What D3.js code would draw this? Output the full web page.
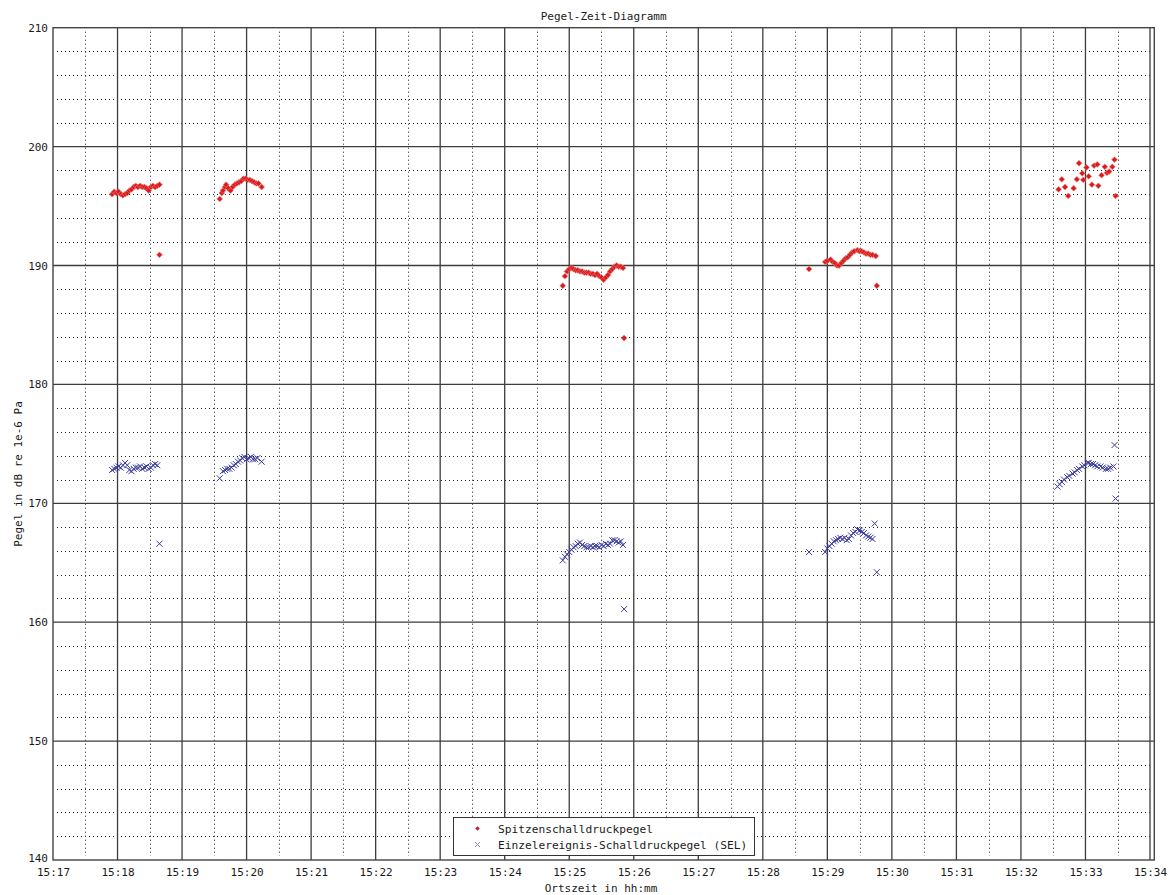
<!DOCTYPE html>
<html>
<head>
<meta charset="utf-8">
<script src="https://cdn.jsdelivr.net/npm/d3@7"></script>
<style>
  html, body { margin: 0; padding: 0; background: #fff; }
  svg { display: block; }
  text { font-family: "DejaVu Sans Mono", "Liberation Mono", monospace; fill: #1a1a1a; }
</style>
</head>
<body>
<svg id="chart" width="1171" height="895"></svg>
<script>
// ---------------- DATA ----------------
const chartTitle = "Pegel-Zeit-Diagramm";
const xAxisLabel = "Ortszeit in hh:mm";
const yAxisLabel = "Pegel in dB re 1e-6 Pa";
const seriesNames = ["Spitzenschalldruckpegel", "Einzelereignis-Schalldruckpegel (SEL)"];
const xDomain = ["15:17:00", "15:34:04"];
const yDomain = [140, 210];
const yTickValues = [140, 150, 160, 170, 180, 190, 200, 210];

const peakTimes = [
  "15:17:55","15:17:57","15:17:59","15:18:01","15:18:03","15:18:05","15:18:07","15:18:09","15:18:11","15:18:13",
  "15:18:15","15:18:17","15:18:19","15:18:21","15:18:23","15:18:25","15:18:27","15:18:29","15:18:31","15:18:33",
  "15:18:35","15:18:37","15:18:39","15:18:39",
  "15:19:35","15:19:37","15:19:38","15:19:40","15:19:41","15:19:43","15:19:45","15:19:47","15:19:49","15:19:51",
  "15:19:53","15:19:55","15:19:57","15:19:59","15:20:01","15:20:03","15:20:05","15:20:07","15:20:09","15:20:11","15:20:14",
  "15:24:54","15:24:56","15:24:58","15:25:00","15:25:02","15:25:04","15:25:06","15:25:08","15:25:10","15:25:12",
  "15:25:14","15:25:16","15:25:18","15:25:20","15:25:22","15:25:24","15:25:26","15:25:28","15:25:30","15:25:32",
  "15:25:34","15:25:36","15:25:38","15:25:40","15:25:42","15:25:44","15:25:46","15:25:48","15:25:50","15:25:51",
  "15:28:43","15:28:58","15:29:00","15:29:03","15:29:05","15:29:07","15:29:09","15:29:11","15:29:13","15:29:15",
  "15:29:17","15:29:19","15:29:21","15:29:23","15:29:25","15:29:28","15:29:30","15:29:32","15:29:34","15:29:36",
  "15:29:38","15:29:40","15:29:42","15:29:45","15:29:46",
  "15:32:35","15:32:38","15:32:41","15:32:44","15:32:49","15:32:52","15:32:54","15:32:57","15:32:58","15:33:01",
  "15:33:03","15:33:06","15:33:08","15:33:11","15:33:12","15:33:15","15:33:18","15:33:20","15:33:22","15:33:25",
  "15:33:27","15:33:28"
];
const peakLevels = [
  196.0,196.2,196.1,196.2,196.0,195.9,196.0,196.1,196.3,196.4,
  196.6,196.7,196.6,196.7,196.6,196.6,196.5,196.3,196.6,196.7,
  196.6,196.7,196.8,190.9,
  195.6,196.1,196.3,196.6,196.8,196.5,196.3,196.6,196.8,196.9,
  197.0,197.1,197.3,197.3,197.2,197.2,197.1,197.0,196.9,196.9,196.6,
  188.3,189.1,189.5,189.7,189.8,189.7,189.6,189.6,189.5,189.5,
  189.4,189.4,189.4,189.3,189.3,189.2,189.3,189.1,189.0,188.8,
  189.0,189.2,189.5,189.7,189.9,190.0,189.9,189.9,189.8,183.9,
  189.7,190.3,190.4,190.5,190.3,190.2,190.0,190.0,190.2,190.4,
  190.6,190.7,190.9,191.1,191.2,191.3,191.2,191.2,191.1,191.0,
  191.0,190.9,190.9,190.8,188.3,
  196.4,197.25,196.6,195.85,196.5,197.25,198.6,197.75,197.2,198.25,
  197.5,196.8,198.4,198.5,196.7,197.6,198.3,197.8,197.9,198.3,
  198.9,195.85
];

const selTimes = [
  "15:17:55","15:17:57","15:17:59","15:18:01","15:18:03","15:18:05","15:18:07","15:18:09","15:18:11","15:18:13",
  "15:18:15","15:18:17","15:18:19","15:18:21","15:18:23","15:18:25","15:18:27","15:18:29","15:18:31","15:18:33",
  "15:18:35","15:18:37","15:18:39",
  "15:19:35","15:19:38","15:19:40","15:19:42","15:19:44","15:19:46","15:19:48","15:19:50","15:19:52","15:19:54",
  "15:19:56","15:19:58","15:20:00","15:20:02","15:20:04","15:20:06","15:20:08","15:20:10","15:20:14",
  "15:24:54","15:24:56","15:24:58","15:25:00","15:25:02","15:25:04","15:25:06","15:25:08","15:25:10","15:25:12",
  "15:25:14","15:25:16","15:25:18","15:25:20","15:25:22","15:25:24","15:25:26","15:25:28","15:25:30","15:25:32",
  "15:25:34","15:25:36","15:25:38","15:25:40","15:25:42","15:25:44","15:25:46","15:25:48","15:25:50","15:25:51",
  "15:28:43","15:28:58","15:29:00","15:29:02","15:29:04","15:29:06","15:29:08","15:29:10","15:29:12","15:29:14",
  "15:29:16","15:29:18","15:29:20","15:29:22","15:29:24","15:29:26","15:29:28","15:29:30","15:29:32","15:29:34",
  "15:29:36","15:29:38","15:29:40","15:29:42","15:29:44","15:29:46",
  "15:32:34","15:32:36","15:32:38","15:32:40","15:32:43","15:32:45","15:32:48","15:32:50","15:32:52","15:32:54",
  "15:32:57","15:32:59","15:33:02","15:33:03","15:33:05","15:33:07","15:33:09","15:33:11","15:33:14","15:33:16",
  "15:33:19","15:33:21","15:33:23","15:33:26","15:33:27","15:33:28"
];
const selLevels = [
  172.8,172.9,173.0,173.1,173.0,173.2,173.4,173.2,172.8,172.7,
  172.9,173.0,173.0,173.1,172.9,173.0,173.1,172.9,173.0,173.2,
  173.3,173.2,166.6,
  172.1,172.7,172.8,172.9,172.9,173.0,173.2,173.3,173.5,173.6,
  173.8,173.9,173.7,173.8,173.9,173.7,173.7,173.8,173.5,
  165.2,165.5,165.7,165.9,166.1,166.3,166.4,166.6,166.7,166.5,
  166.4,166.3,166.3,166.4,166.3,166.4,166.4,166.3,166.5,166.4,
  166.6,166.5,166.6,166.9,166.9,166.8,166.7,166.8,166.5,161.1,
  165.9,165.9,166.2,166.4,166.6,166.8,166.9,167.0,167.1,167.0,
  167.1,166.9,167.0,167.3,167.5,167.6,167.8,167.7,167.6,167.5,
  167.3,167.2,167.1,167.0,168.3,164.2,
  171.4,171.6,171.8,172.0,172.2,172.3,172.5,172.6,172.8,172.9,
  173.1,173.2,173.4,173.4,173.3,173.3,173.2,173.1,173.1,173.0,
  172.9,172.9,173.0,173.1,174.9,170.4
];

// ---------------- CHART ----------------
const svg = d3.select("#chart");
const W = 1171, H = 895;
const plot = { left: 53, top: 27.7, right: 1154.3, bottom: 860 };
const parseT = d3.timeParse("%H:%M:%S");

const x = d3.scaleTime().domain(xDomain.map(parseT)).range([plot.left, plot.right]);
const y = d3.scaleLinear().domain(yDomain).range([plot.bottom, plot.top]);

svg.append("rect").attr("width", W).attr("height", H).attr("fill", "#fff");

// minor grid (dotted)
const minorX = d3.timeSecond.every(30).range(x.domain()[0], x.domain()[1]).filter(d => d.getSeconds() === 30);
const minorY = d3.range(142, 210, 2).filter(v => v % 10 !== 0);
const grid = svg.append("g");
grid.selectAll("line.mx").data(minorX).join("line")
  .attr("x1", d => Math.round(x(d)) + 0.5).attr("x2", d => Math.round(x(d)) + 0.5)
  .attr("y1", plot.top + 4).attr("y2", plot.bottom - 4)
  .attr("stroke", "#222").attr("stroke-width", 1).attr("stroke-dasharray", "1,3");
grid.selectAll("line.my").data(minorY).join("line")
  .attr("y1", d => Math.round(y(d)) + 0.5).attr("y2", d => Math.round(y(d)) + 0.5)
  .attr("x1", plot.left + 4).attr("x2", plot.right - 4)
  .attr("stroke", "#222").attr("stroke-width", 1).attr("stroke-dasharray", "1,3");

// major grid (solid)
const majorX = d3.timeMinute.every(1).range(x.domain()[0], x.domain()[1]).filter(d => x(d) > plot.left + 1);
const majorY = yTickValues.filter(v => v > yDomain[0] && v < yDomain[1]);
grid.selectAll("line.Mx").data(majorX).join("line")
  .attr("x1", d => x(d)).attr("x2", d => x(d))
  .attr("y1", plot.top).attr("y2", plot.bottom)
  .attr("stroke", "#3c3c3c").attr("stroke-width", 1.3);
grid.selectAll("line.My").data(majorY).join("line")
  .attr("y1", d => y(d)).attr("y2", d => y(d))
  .attr("x1", plot.left).attr("x2", plot.right)
  .attr("stroke", "#3c3c3c").attr("stroke-width", 1.3);

// frame
svg.append("rect")
  .attr("x", plot.left).attr("y", plot.top)
  .attr("width", plot.right - plot.left).attr("height", plot.bottom - plot.top)
  .attr("fill", "none").attr("stroke", "#444").attr("stroke-width", 1.4);

// axes
const xAxis = d3.axisBottom(x)
  .tickValues(d3.timeMinute.every(1).range(x.domain()[0], x.domain()[1]))
  .tickFormat(d3.timeFormat("%H:%M")).tickSize(0).tickPadding(8);
const gx = svg.append("g").attr("transform", `translate(0,${plot.bottom})`).call(xAxis);
gx.select(".domain").remove();
gx.selectAll("text").attr("font-size", 11).attr("font-family", "DejaVu Sans Mono").attr("fill", "#1a1a1a");

const yAxis = d3.axisLeft(y).tickValues(yTickValues).tickFormat(d3.format("d")).tickSize(0).tickPadding(5);
const gy = svg.append("g").attr("transform", `translate(${plot.left},0)`).call(yAxis);
gy.select(".domain").remove();
gy.selectAll("text").attr("font-size", 11).attr("font-family", "DejaVu Sans Mono").attr("fill", "#1a1a1a");
// lowest label sits just above the first time label, as in the reference
gy.selectAll(".tick").filter(d => d === yDomain[0]).select("text").attr("dy", "0.1em");

// titles
svg.append("text").attr("x", (plot.left + plot.right) / 2).attr("y", 20)
  .attr("text-anchor", "middle").attr("font-size", 11).text(chartTitle);
svg.append("text").attr("x", 601).attr("y", 892)
  .attr("text-anchor", "middle").attr("font-size", 11).text(xAxisLabel);
svg.append("text").attr("transform", "translate(22,474) rotate(-90)")
  .attr("text-anchor", "middle").attr("font-size", 11).text(yAxisLabel);

// data
const peakData = peakTimes.map((t, i) => ({ t: parseT(t), v: peakLevels[i] }));
const selData = selTimes.map((t, i) => ({ t: parseT(t), v: selLevels[i] }));

const diamond = d3.symbol().type(d3.symbolSquare).size(17);
const crossPath = "M-3,-3L3,3M-3,3L3,-3";

svg.append("g").selectAll("path").data(selData).join("path")
  .attr("transform", d => `translate(${x(d.t)},${y(d.v)})`)
  .attr("d", crossPath).attr("stroke", "#3b3b9e").attr("stroke-width", 1).attr("fill", "none");

svg.append("g").selectAll("path").data(peakData).join("path")
  .attr("transform", d => `translate(${x(d.t)},${y(d.v)}) rotate(45)`)
  .attr("d", diamond).attr("fill", "#d81c1c").attr("stroke", "#f07a7a").attr("stroke-width", 0.6);

// legend
const lg = svg.append("g");
lg.append("rect").attr("x", 453.5).attr("y", 817.5).attr("width", 301).attr("height", 38)
  .attr("fill", "#fff").attr("stroke", "#333").attr("stroke-width", 1);
lg.append("path").attr("transform", "translate(477.5,828.5) rotate(45)")
  .attr("d", d3.symbol().type(d3.symbolSquare).size(10)).attr("fill", "#c42020");
lg.append("path").attr("transform", "translate(477.5,844.5)")
  .attr("d", "M-2.5,-2.5L2.5,2.5M-2.5,2.5L2.5,-2.5").attr("stroke", "#8a8ab8").attr("stroke-width", 1);
lg.append("text").attr("x", 498).attr("y", 832.5).attr("font-size", 11.2).text(seriesNames[0]);
lg.append("text").attr("x", 498).attr("y", 848.5).attr("font-size", 11.2).text(seriesNames[1]);
</script>
</body>
</html>
